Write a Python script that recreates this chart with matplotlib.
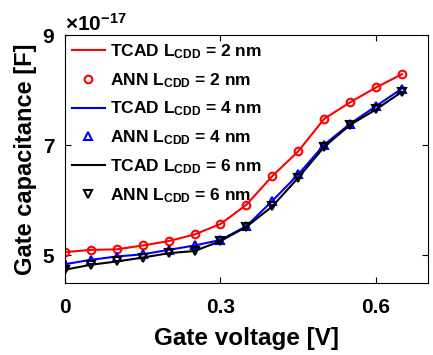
import matplotlib
matplotlib.use("Agg")
import matplotlib.pyplot as plt
from matplotlib.ticker import ScalarFormatter

plt.rcParams['font.family'] = ['Liberation Sans', 'DejaVu Sans']
plt.rcParams['font.weight'] = 'bold'
plt.rcParams['mathtext.fontset'] = 'custom'
plt.rcParams['mathtext.rm'] = 'Liberation Sans:bold'
plt.rcParams['mathtext.bf'] = 'Liberation Sans:bold'
plt.rcParams['mathtext.default'] = 'bf'

SCALE = 1e-17
voltage = [0, 0.05, 0.1, 0.15, 0.2, 0.25, 0.3, 0.35, 0.4, 0.45, 0.5, 0.55, 0.6, 0.65]
tcad_2nm = [5.06, 5.10, 5.11, 5.18, 5.26, 5.38, 5.57, 5.92, 6.44, 6.89, 7.48, 7.78, 8.05, 8.29]
ann_2nm = [5.06, 5.10, 5.11, 5.18, 5.26, 5.38, 5.57, 5.92, 6.44, 6.89, 7.48, 7.78, 8.05, 8.29]
tcad_4nm = [4.84, 4.92, 4.98, 5.02, 5.10, 5.18, 5.28, 5.53, 5.99, 6.47, 7.01, 7.39, 7.71, 8.03]
ann_4nm = [4.84, 4.92, 4.98, 5.02, 5.10, 5.18, 5.28, 5.53, 5.99, 6.47, 7.01, 7.39, 7.71, 8.03]
tcad_6nm = [4.74, 4.83, 4.89, 4.96, 5.04, 5.08, 5.26, 5.52, 5.89, 6.41, 6.97, 7.37, 7.65, 7.97]
ann_6nm = [4.74, 4.83, 4.89, 4.96, 5.04, 5.08, 5.26, 5.52, 5.89, 6.41, 6.97, 7.37, 7.65, 7.97]
x_ticks = [0, 0.3, 0.6]
x_tick_labels = ['0', '0.3', '0.6']
y_ticks = [5, 7, 9]

def sc(v):
    return [a * SCALE for a in v]

fig = plt.figure(figsize=(4.33, 3.55), dpi=100)
ax = fig.add_axes([0.150, 0.203, 0.838, 0.698])

ms = 5.5
ax.plot(voltage, sc(tcad_2nm), '-', color='#ff0000', lw=1.5, label=r'TCAD L$_{CDD}$ = 2 nm')
ax.plot(voltage, sc(ann_2nm), 'o', mfc='none', mec='#ff0000', mew=1.5, ms=ms, label=r'ANN L$_{CDD}$ = 2 nm')
ax.plot(voltage, sc(tcad_4nm), '-', color='#0000ff', lw=1.5, label=r'TCAD L$_{CDD}$ = 4 nm')
ax.plot(voltage, sc(ann_4nm), '^', mfc='none', mec='#0000ff', mew=1.5, ms=ms, label=r'ANN L$_{CDD}$ = 4 nm')
ax.plot(voltage, sc(tcad_6nm), '-', color='black', lw=1.5, label=r'TCAD L$_{CDD}$ = 6 nm')
ax.plot(voltage, sc(ann_6nm), 'v', mfc='none', mec='black', mew=1.5, ms=ms, label=r'ANN L$_{CDD}$ = 6 nm')

ax.set_xlim(0, 0.7)
ax.set_ylim(4.5 * SCALE, 9 * SCALE)
ax.set_xticks(x_ticks)
ax.set_xticklabels(x_tick_labels)
ax.set_yticks([t * SCALE for t in y_ticks])
fmt = ScalarFormatter(useMathText=True)
ax.yaxis.set_major_formatter(fmt)
ax.tick_params(direction='in', length=4, labelsize=15, top=True, right=True, width=0.8)
ax.tick_params(axis='x', pad=11)
ax.tick_params(axis='y', pad=7)
ax.yaxis.get_offset_text().set_fontsize(15)
ax.yaxis.get_offset_text().set_fontweight('bold')

ax.set_xlabel('Gate voltage [V]', fontsize=17.5, fontweight='bold', labelpad=7)
ax.set_ylabel('Gate capacitance [F]', fontsize=17, fontweight='bold', labelpad=4)

leg = ax.legend(loc='upper left', frameon=False, fontsize=12.5, handlelength=1.9,
                handletextpad=0.3, labelspacing=0.58, borderaxespad=0.1,
                borderpad=0.3)

fig.savefig('out.png', dpi=100)
